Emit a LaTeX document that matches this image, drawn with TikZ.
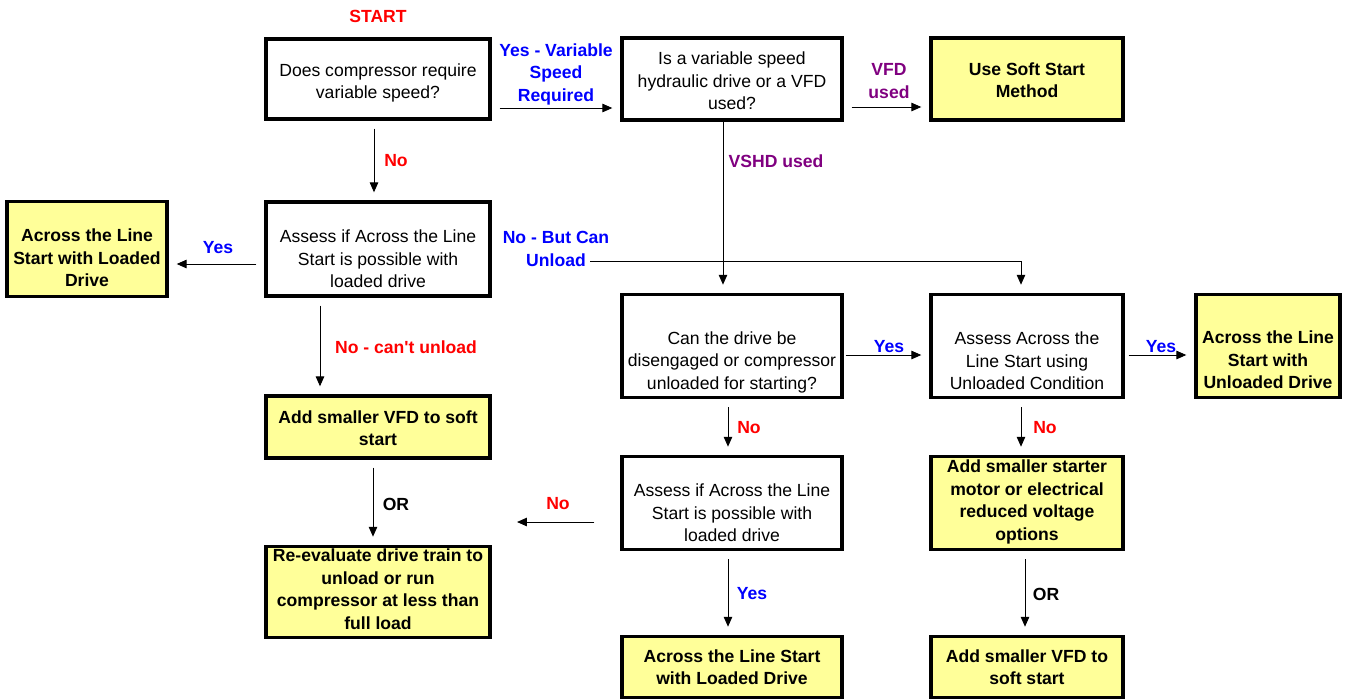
\documentclass[tikz,border=0pt]{standalone}
\usepackage{fontspec}
\setmainfont{Liberation Sans}
\usepackage{xcolor}
\definecolor{Flow-yellow}{RGB}{255,255,153}
\definecolor{Flow-blue}{RGB}{0,0,255}
\definecolor{Flow-red}{RGB}{255,0,0}
\definecolor{Flow-purple}{RGB}{128,0,128}
\usetikzlibrary{arrows.meta,positioning,calc}

\begin{document}
\begin{tikzpicture} [
    x=0.025cm, y=-0.025cm, font=\fontsize{12.5}{16}\selectfont,
    box/.style = {rectangle,draw=black,line width=2.4pt,inner sep=0pt},
    endbox/.style = {box,fill=Flow-yellow},
    txt/.style = {align=center,inner sep=0pt},
    btxt/.style = {txt,font=\fontsize{12.5}{16}\selectfont\bfseries},
    lbl/.style = {align=center,inner sep=0pt,font=\fontsize{12.5}{16}\selectfont\bfseries},
    arr/.style = {-{Triangle[length=7pt,width=6pt]},line width=0.7pt,shorten <=0.2cm,shorten >=0.2cm}
    ]

    \useasboundingbox[fill=white] (0,0) rectangle (1349,698);

    \def \xarray{{87, 378, 732, 1027, 1268}}
    \def \yarray{{79, 249, 346, 427, 503, 592, 667}}

    % boxes
    \node (b1) [box,minimum width=5.6cm,minimum height=2cm] at (\xarray[1], \yarray[0]) {};
    \node (b2) [box,minimum width=5.5cm,minimum height=2.05cm] at (\xarray[2], \yarray[0]) {};
    \node (b3) [endbox,minimum width=4.8cm,minimum height=2.05cm] at (\xarray[3], \yarray[0]) {};
    \node (b4) [box,minimum width=5.6cm,minimum height=2.35cm] at (\xarray[1], \yarray[1]) {};
    \node (b5) [endbox,minimum width=4cm,minimum height=2.38cm] at (\xarray[0], \yarray[1]) {};
    \node (b8) [box,minimum width=5.5cm,minimum height=2.58cm] at (\xarray[2], \yarray[2]) {};
    \node (b9) [box,minimum width=4.8cm,minimum height=2.58cm] at (\xarray[3], \yarray[2]) {};
    \node (b10) [endbox,minimum width=3.6cm,minimum height=2.58cm] at (\xarray[4], \yarray[2]) {};
    \node (b6) [endbox,minimum width=5.6cm,minimum height=1.55cm] at (\xarray[1], \yarray[3]) {};
    \node (b11) [box,minimum width=5.5cm,minimum height=2.33cm] at (\xarray[2], \yarray[4]) {};
    \node (b12) [endbox,minimum width=4.8cm,minimum height=2.33cm] at (\xarray[3], \yarray[4]) {};
    \node (b7) [endbox,minimum width=5.6cm,minimum height=2.28cm] at (\xarray[1], \yarray[5]) {};
    \node (b13) [endbox,minimum width=5.5cm,minimum height=1.53cm] at (\xarray[2], \yarray[6]) {};
    \node (b14) [endbox,minimum width=4.8cm,minimum height=1.53cm] at (\xarray[3], \yarray[6]) {};

    % box texts
    \node (t1) [txt] at ($(b1)+(0,4)$) {Does compressor require\\variable speed?};
    \node (t2) [txt] at ($(b2)+(0,2)$) {Is a variable speed\\hydraulic drive or a VFD\\used?};
    \node (t3) [btxt] at ($(b3)+(0,1)$) {Use Soft Start\\Method};
    \node (t4) [txt] at ($(b4)+(0,10)$) {Assess if Across the Line\\Start is possible with\\loaded drive};
    \node (t5) [btxt] at ($(b5)+(0,9)$) {Across the Line\\Start with Loaded\\Drive};
    \node (t8) [txt] at ($(b8)+(0,16)$) {Can the drive be\\disengaged or compressor\\unloaded for starting?};
    \node (t9) [txt] at ($(b9)+(0,15)$) {Assess Across the\\Line Start using\\Unloaded Condition};
    \node (t10) [btxt] at ($(b10)+(0,14)$) {Across the Line\\Start with\\Unloaded Drive};
    \node (t6) [btxt] at ($(b6)+(0,1)$) {Add smaller VFD to soft\\start};
    \node (t11) [txt] at ($(b11)+(0,10)$) {Assess if Across the Line\\Start is possible with\\loaded drive};
    \node (t12) [btxt] at ($(b12)+(0,-1)$) {Add smaller starter\\motor or electrical\\reduced voltage\\options};
    \node (t7) [btxt] at ($(b7)+(0,-3)$) {Re-evaluate drive train to\\unload or run\\compressor at less than\\full load};
    \node (t13) [btxt] at ($(b13)+(0,0)$) {Across the Line Start\\with Loaded Drive};
    \node (t14) [btxt] at ($(b14)+(0,0)$) {Add smaller VFD to\\soft start};

    % labels
    \node (start) [lbl,text=Flow-red] at (378, 16) {START};
    \node (yvar) [lbl,text=Flow-blue] at (556, 74) {Yes - Variable\\Speed\\Required};
    \node (vfd) [lbl,text=Flow-purple] at (889, 81) {VFD\\used};
    \node (no1) [lbl,text=Flow-red] at (396, 161) {No};
    \node (vshd) [lbl,text=Flow-purple] at (776, 161) {VSHD used};
    \node (yes1) [lbl,text=Flow-blue] at (218, 248) {Yes};
    \node (nobut) [lbl,text=Flow-blue] at (556, 249) {No - But Can\\Unload};
    \node (nocant) [lbl,text=Flow-red] at (406, 347) {No - can\textquotesingle t unload};
    \node (yes2) [lbl,text=Flow-blue] at (889, 347) {Yes};
    \node (yes3) [lbl,text=Flow-blue] at (1161, 347) {Yes};
    \node (no2) [lbl,text=Flow-red] at (749, 428) {No};
    \node (no3) [lbl,text=Flow-red] at (1045, 428) {No};
    \node (or1) [lbl] at (396, 504) {OR};
    \node (no4) [lbl,text=Flow-red] at (558, 504) {No};
    \node (yes4) [lbl,text=Flow-blue] at (752, 594) {Yes};
    \node (or2) [lbl] at (1046, 594) {OR};

    \coordinate (ul) at (590, 261);
    \coordinate (noend) at (517, 522);

    % connectors
    \draw[arr] ($(b1.east)+(0,29)$) -- ($(b2.west)+(0,29)$);
    \draw[arr] ($(b2.east)+(0,28)$) -- ($(b3.west)+(0,28)$);
    \draw[arr] ($(b1.south)+(-4,0)$) -- ($(b4.north)+(-4,0)$);
    \draw[arr,shorten <=0pt] ($(b2.south)+(-9,0)$) -- ($(b8.north)+(-9,0)$);
    \draw[arr] ($(b4.west)+(0,15)$) -- ($(b5.east)+(0,15)$);
    \draw[arr,shorten <=0pt] (ul) -| ($(b9.north)+(-6,0)$);
    \draw[arr] ($(b4.south)+(-58,0)$) -- ($(b6.north)+(-58,0)$);
    \draw[arr,shorten <=0.05cm] ($(b8.east)+(0,9)$) -- ($(b9.west)+(0,9)$);
    \draw[arr,shorten <=0.1cm] ($(b9.east)+(0,9)$) -- ($(b10.west)+(0,9)$);
    \draw[arr] ($(b8.south)+(-4,0)$) -- ($(b11.north)+(-4,0)$);
    \draw[arr] ($(b9.south)+(-6,0)$) -- ($(b12.north)+(-6,0)$);
    \draw[arr] ($(b6.south)+(-5,0)$) -- ($(b7.north)+(-5,0)$);
    \draw[arr,shorten <=0.65cm,shorten >=0pt] ($(b11.west)+(0,19)$) -- (noend);
    \draw[arr] ($(b11.south)+(-4,0)$) -- ($(b13.north)+(-4,0)$);
    \draw[arr] ($(b12.south)+(-2,0)$) -- ($(b14.north)+(-2,0)$);

\end{tikzpicture}
\end{document}
